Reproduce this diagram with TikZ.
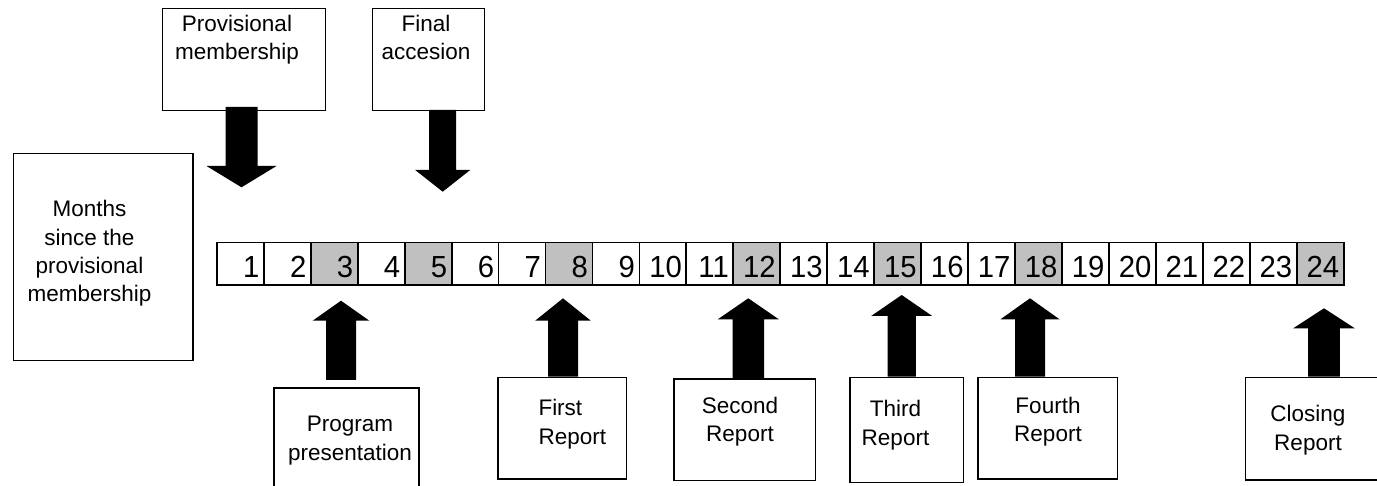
\documentclass[tikz,border=0pt]{standalone}
\usepackage{fontspec}
\setmainfont{Liberation Sans}
\newfontfamily\digitfont[FakeStretch=0.96]{Liberation Sans}
\definecolor{hlgray}{RGB}{192,192,192}
\tikzset{
  box/.style={draw, line width=1.3pt, fill=white, inner sep=0pt, anchor=north west},
  lbl/.style={font=\fontsize{22.5}{28.3}\selectfont, align=center, inner sep=0pt, anchor=base},
  lbll/.style={font=\fontsize{22.5}{28.3}\selectfont, align=left, inner sep=0pt, anchor=base west},
  cell/.style={draw, line width=1.8pt, anchor=north west, minimum height=42.3pt,
    inner xsep=4.5pt, inner ysep=0pt, text width=37.946pt, align=right,
    text height=27.7pt, text depth=0pt, font=\digitfont\fontsize{30.5}{31}\selectfont},
  blk/.style={fill=black}
}
\newcommand{\blockarrow}[6]{%
  \fill[blk] ({#1-#5},#2) -- ({#1-#5},#3) -- ({#1-#6},#3) -- (#1,#4) --
    ({#1+#6},#3) -- ({#1+#5},#3) -- ({#1+#5},#2) -- cycle;}
\begin{document}
\begin{tikzpicture}[x=1pt,y=-1pt]
\useasboundingbox (0,0) rectangle (1377,486);
% timeline
\foreach \i/\f in {1/white,2/white,3/hlgray,4/white,5/hlgray,6/white,7/white,8/hlgray,
  9/white,10/white,11/white,12/hlgray,13/white,14/white,15/hlgray,16/white,17/white,
  18/hlgray,19/white,20/white,21/white,22/white,23/white,24/hlgray}
  \node[cell, fill=\f] (c\i) at ({216+(\i-1)*46.946},241.7) {\i};
% boxes
\node[box, minimum width=163pt, minimum height=102pt] (prov) at (162,8) {};
\node[box, minimum width=112pt, minimum height=102pt] (final) at (372,8) {};
\node[box, minimum width=179.6pt, minimum height=207.3pt] (months) at (12.7,152.7) {};
\node[box, minimum width=145pt, minimum height=120pt] (prog) at (273.3,387.3) {};
\node[box, minimum width=128.7pt, minimum height=101.6pt] (first) at (497.3,376.7) {};
\node[box, minimum width=141.7pt, minimum height=101.7pt] (second) at (673.3,378.3) {};
\node[box, minimum width=113.4pt, minimum height=105pt] (third) at (849.3,376.7) {};
\node[box, minimum width=139.4pt, minimum height=101.6pt] (fourth) at (977.3,376.7) {};
\node[box, minimum width=131.7pt, minimum height=102.6pt] (closing) at (1245,376.7) {};
% labels (anchor = baseline of last line)
\node[lbl] (tprov) at (237,60) {Provisional\\membership};
\node[lbl] (tfinal) at (426,60) {Final\\accesion};
\node[lbl] (tmonths) at (89.5,301.7) {Months\\since the\\provisional\\membership};
\node[lbl] (tprog) at (350,460) {Program\\presentation};
\node[lbll] (tfirst) at (538.3,444) {First\\Report};
\node[lbl] (tsecond) at (740,441.7) {Second\\Report};
\node[lbl] (tthird) at (895.5,445) {Third\\Report};
\node[lbl] (tfourth) at (1048,441.7) {Fourth\\Report};
\node[lbl] (tclosing) at (1308,450) {Closing\\Report};
% block arrows
\blockarrow{241.5}{107}{166}{187.3}{16}{35}
\blockarrow{442.7}{110}{170}{191.7}{13.5}{27.5}
\blockarrow{341}{380}{320.7}{300.7}{15}{28.3}
\blockarrow{563}{376.7}{320.7}{298.3}{15}{27.8}
\blockarrow{748.3}{378.3}{319.3}{298.3}{15.7}{30.5}
\blockarrow{901.7}{376.7}{316}{295}{14.2}{30.5}
\blockarrow{1030}{376.7}{319.3}{298.3}{15}{29.5}
\blockarrow{1324}{376.7}{328.3}{308.3}{15.8}{30.8}
\end{tikzpicture}
\end{document}
